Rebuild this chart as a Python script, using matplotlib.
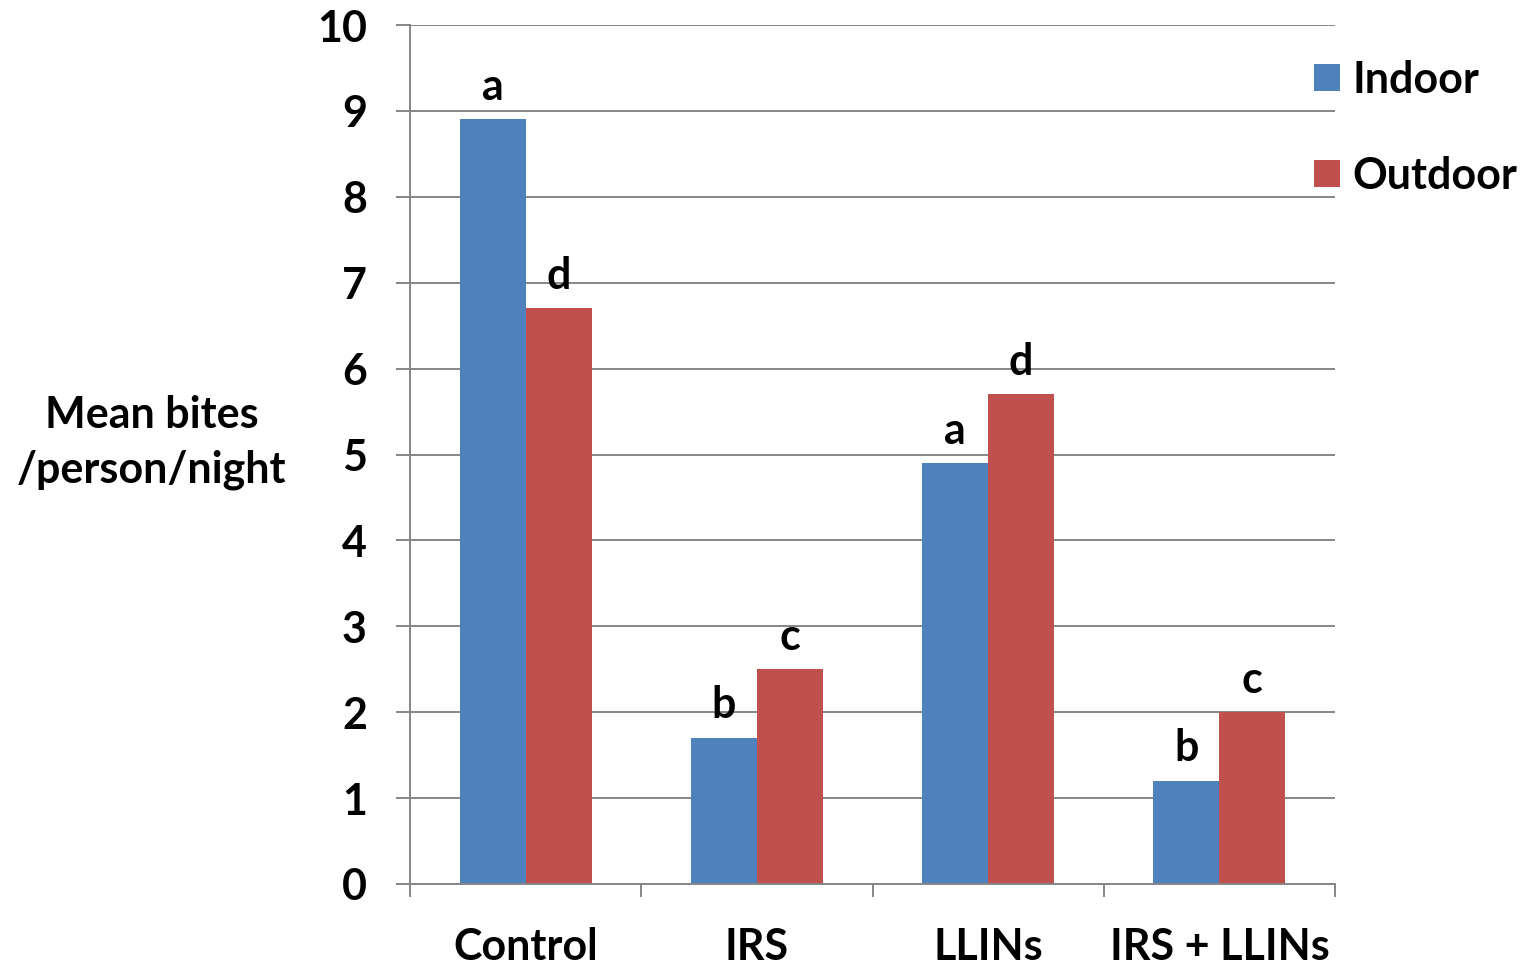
import numpy as np
import matplotlib.pyplot as plt
from matplotlib.ticker import FixedLocator, NullFormatter

plt.rcParams['font.family'] = ['Lato', 'DejaVu Sans']
plt.rcParams['font.weight'] = 'bold'

treatments = ['Control', 'IRS', 'LLINs', 'IRS + LLINs']
indoor = [8.9, 1.7, 4.9, 1.2]
outdoor = [6.7, 2.5, 5.7, 2.0]
indoor_letters = ['a', 'b', 'a', 'b']
outdoor_letters = ['d', 'c', 'd', 'c']

blue = '#4F81BD'
red = '#C0504D'
grey = '#868686'
fs = 31

fig = plt.figure(figsize=(15.28, 9.67), dpi=100)
ax = fig.add_axes([410 / 1528, 1 - 884 / 967, 925 / 1528, 859 / 967])

x = np.arange(len(treatments))
w = 0.285
b1 = ax.bar(x - w / 2, indoor, w, color=blue, label='Indoor', zorder=2)
b2 = ax.bar(x + w / 2, outdoor, w, color=red, label='Outdoor', zorder=2)

# significance letters above each bar
for bars, letters in ((b1, indoor_letters), (b2, outdoor_letters)):
    for rect, lt in zip(bars, letters):
        ax.annotate(lt, (rect.get_x() + rect.get_width() / 2, rect.get_height()),
                    xytext=(0, 9), textcoords='offset points',
                    ha='center', va='bottom', fontsize=fs, fontweight='bold')

ax.set_xlim(-0.5, len(treatments) - 0.5)
ax.set_ylim(0, 10)
ax.set_yticks(range(0, 11))
ax.yaxis.grid(True, color=grey, linewidth=1.4, zorder=0)
ax.set_axisbelow(True)

# category boundaries as major ticks, names on minor ticks
ax.xaxis.set_major_locator(FixedLocator(np.arange(-0.5, len(treatments), 1.0)))
ax.xaxis.set_major_formatter(NullFormatter())
ax.xaxis.set_minor_locator(FixedLocator(x))
ax.set_xticklabels(treatments, minor=True)
ax.tick_params(axis='x', which='major', length=9.5, width=1.4, color=grey)
ax.tick_params(axis='x', which='minor', length=0, pad=31, labelsize=fs)
ax.tick_params(axis='y', length=10, width=1.4, color=grey, pad=21, labelsize=fs)

for s in ('top', 'right'):
    ax.spines[s].set_visible(False)
for s in ('left', 'bottom'):
    ax.spines[s].set_color(grey)
    ax.spines[s].set_linewidth(1.4)

ax.set_ylabel('Mean bites\n/person/night', rotation=0, fontsize=fs,
              fontweight='bold', ha='center', va='center', multialignment='center',
              linespacing=1.45)
ax.yaxis.set_label_coords(-0.279, 0.514)

ax.legend(loc='upper left', bbox_to_anchor=(1314 / 1528, 1 - 60 / 967),
          bbox_transform=fig.transFigure, frameon=False, fontsize=fs,
          handlelength=0.6, handleheight=0.6, handletextpad=0.3,
          labelspacing=1.3, borderpad=0, borderaxespad=0)

fig.savefig('out.png', dpi=100)
